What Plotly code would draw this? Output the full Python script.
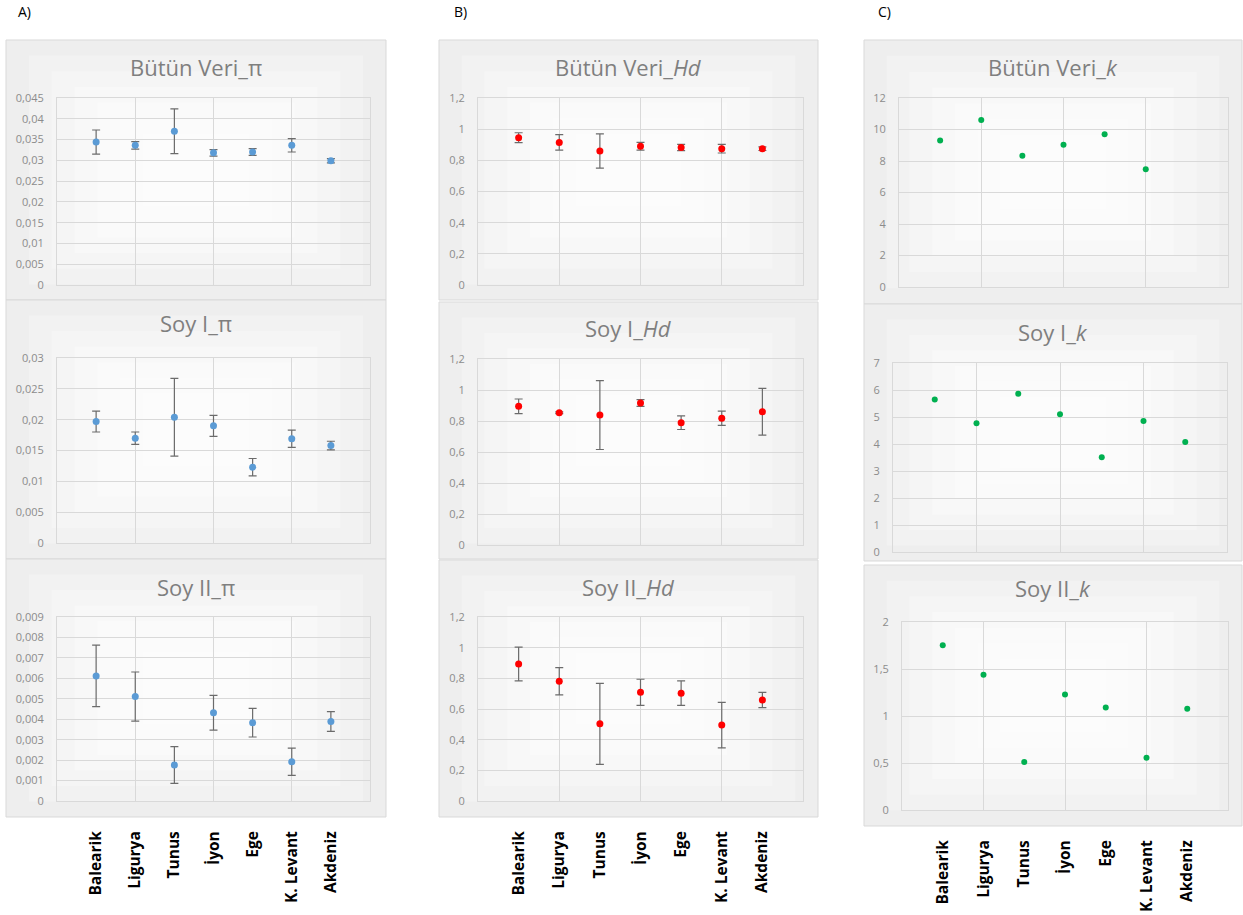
import plotly.graph_objects as go

W, H = 1243, 915

regions = ["Balearik", "Ligurya", "Tunus", "İyon", "Ege", "K. Levant", "Akdeniz"]
xpos = [1, 2, 3, 4, 5, 6, 7]

# Panel A: nucleotide diversity (pi)
pi_all = [0.0344, 0.0336, 0.0370, 0.0318, 0.0320, 0.0336, 0.0299]
pi_all_err = [0.0029, 0.0009, 0.0054, 0.0008, 0.0008, 0.0016, 0.0005]
pi_l1 = [0.0197, 0.0170, 0.0204, 0.0190, 0.0123, 0.0169, 0.0158]
pi_l1_err = [0.0017, 0.0010, 0.0063, 0.0017, 0.0014, 0.0014, 0.0007]
pi_l2 = [0.00612, 0.00511, 0.00176, 0.00432, 0.00383, 0.00192, 0.00389]
pi_l2_err = [0.0015, 0.0012, 0.0009, 0.00085, 0.0007, 0.00067, 0.00048]

# Panel B: haplotype diversity (Hd)
hd_all = [0.945, 0.915, 0.860, 0.890, 0.882, 0.875, 0.875]
hd_all_err = [0.032, 0.050, 0.110, 0.025, 0.020, 0.028, 0.012]
hd_l1 = [0.895, 0.853, 0.838, 0.916, 0.789, 0.818, 0.860]
hd_l1_err = [0.047, 0.006, 0.222, 0.022, 0.044, 0.046, 0.151]
hd_l2 = [0.894, 0.781, 0.503, 0.709, 0.703, 0.495, 0.659]
hd_l2_err = [0.110, 0.089, 0.264, 0.085, 0.080, 0.148, 0.050]

# Panel C: average number of nucleotide differences (k)
k_all = [9.30, 10.60, 8.33, 9.03, 9.70, 7.48, None]
k_l1 = [5.65, 4.77, 5.86, 5.10, 3.51, 4.85, 4.07]
k_l2 = [1.752, 1.44, 0.51, 1.23, 1.09, 0.557, 1.078]

BLUE, RED, GREEN = "#5b9bd5", "#ff0000", "#00b050"
ERRC = "#6b6b6b"
GRID = "#d9d9d9"
TICKC = "#8c8c8c"
FONT = "Open Sans"


def fx(px):
    return px / W


def fy(py):
    return 1 - py / H


panels = [
    ("Bütün Veri_π", pi_all, pi_all_err, BLUE, 7, 0.045, 0.005, ".3~f", (57, 370, 98, 285), (6, 386, 40, 300), 67, False),
    ("Soy I_π", pi_l1, pi_l1_err, BLUE, 7, 0.03, 0.005, ".3~f", (57, 370, 358, 543), (6, 386, 300, 559), 323, False),
    ("Soy II_π", pi_l2, pi_l2_err, BLUE, 7, 0.009, 0.001, ".3~f", (57, 370, 617, 801), (6, 386, 559, 817), 587, True),
    ("Bütün Veri_<i>Hd</i>", hd_all, hd_all_err, RED, 7, 1.2, 0.2, ".1~f", (478, 803, 98, 285), (439, 818, 40, 300), 67, False),
    ("Soy I_<i>Hd</i>", hd_l1, hd_l1_err, RED, 7, 1.2, 0.2, ".1~f", (478, 803, 359, 545), (439, 818, 302, 559), 328, False),
    ("Soy II_<i>Hd</i>", hd_l2, hd_l2_err, RED, 7, 1.2, 0.2, ".1~f", (478, 803, 617, 801), (439, 818, 560, 817), 587, True),
    ("Bütün Veri_<i>k</i>", k_all, None, GREEN, 6, 12, 2, ".1~f", (899, 1228, 98, 287), (864, 1242, 40, 304), 67, False),
    ("Soy I_<i>k</i>", k_l1, None, GREEN, 6, 7, 1, ".1~f", (893, 1227, 363, 552), (864, 1242, 304, 561), 332, False),
    ("Soy II_<i>k</i>", k_l2, None, GREEN, 6, 2, 0.5, ".1~f", (902, 1228, 622, 810), (864, 1242, 565, 826), 588, True),
]

fig = go.Figure()
shapes = []
annotations = []
layout = {}

for i, (title, yv, err, color, msize, ymax, dtick, fmt, pbox, obox, ty, bottom) in enumerate(panels, start=1):
    xa = "x" if i == 1 else f"x{i}"
    ya = "y" if i == 1 else f"y{i}"
    trace = dict(
        x=xpos, y=yv, mode="markers", xaxis=xa, yaxis=ya, showlegend=False,
        marker=dict(color=color, size=msize),
    )
    if err is not None:
        trace["error_y"] = dict(type="data", array=err, visible=True, color=ERRC, thickness=1.2, width=4)
    fig.add_trace(go.Scatter(**trace))

    px0, px1, py0, py1 = pbox
    xkey = "xaxis" if i == 1 else f"xaxis{i}"
    ykey = "yaxis" if i == 1 else f"yaxis{i}"
    layout[xkey] = dict(
        domain=[fx(px0), fx(px1)], anchor=ya, range=[0, 8], automargin=False,
        tickvals=xpos, ticktext=regions if bottom else [""] * 7,
        showticklabels=bottom, tickangle=-90, ticks="",
        ticklabelstandoff=23,
        tickfont=dict(family=FONT, size=15.5, color="#000000", weight="bold"),
        showgrid=False, zeroline=False,
        showline=True, linecolor=GRID, linewidth=1, mirror=True,
        minor=dict(tickvals=[0, 2, 4, 6, 8], showgrid=True, gridcolor=GRID, gridwidth=1, ticks=""),
        fixedrange=True,
    )
    layout[ykey] = dict(
        domain=[fy(py1), fy(py0)], anchor=xa, range=[0, ymax], dtick=dtick, tick0=0,
        automargin=False,
        tickformat=fmt, ticks="", ticklabelstandoff=10,
        tickfont=dict(family=FONT, size=11, color=TICKC),
        showgrid=True, gridcolor=GRID, gridwidth=1, zeroline=False,
        showline=True, linecolor=GRID, linewidth=1, mirror=True,
        fixedrange=True,
    )

    ox0, ox1, oy0, oy1 = obox
    shapes.append(dict(type="rect", xref="paper", yref="paper", layer="below",
                       x0=fx(ox0), x1=fx(ox1), y0=fy(oy1), y1=fy(oy0),
                       fillcolor="#eeeeee", line=dict(color=GRID, width=1)))
    bw, bh = ox1 - ox0, oy1 - oy0
    for s in range(1, 7):
        ix, iy = bw * 0.06 * s, bh * 0.06 * s
        shapes.append(dict(type="rect", xref="paper", yref="paper", layer="below",
                           x0=fx(ox0 + ix), x1=fx(ox1 - ix), y0=fy(oy1 - iy), y1=fy(oy0 + iy),
                           fillcolor="rgba(255,255,255,0.28)", line=dict(width=0)))
    annotations.append(dict(text=title, xref="paper", yref="paper", x=fx((ox0 + ox1) / 2), y=fy(ty),
                            xanchor="center", yanchor="middle", showarrow=False,
                            font=dict(family=FONT, size=22, color="#7f7f7f")))

for lab, px in (("A)", 16), ("B)", 452), ("C)", 876)):
    annotations.append(dict(text=lab, xref="paper", yref="paper", x=fx(px), y=fy(12),
                            xanchor="left", yanchor="middle", showarrow=False,
                            font=dict(family=FONT, size=14, color="#000000")))

fig.update_layout(
    width=W, height=H, margin=dict(l=0, r=0, t=0, b=0, pad=0, autoexpand=False),
    paper_bgcolor="#ffffff", plot_bgcolor="rgba(0,0,0,0)",
    separators=",.", shapes=shapes, annotations=annotations,
    font=dict(family=FONT), **layout,
)

fig.write_html(
    "out.html",
    config={"responsive": False, "displayModeBar": False},
    post_script="document.body.style.margin='0px';document.body.style.overflow='hidden';",
)
